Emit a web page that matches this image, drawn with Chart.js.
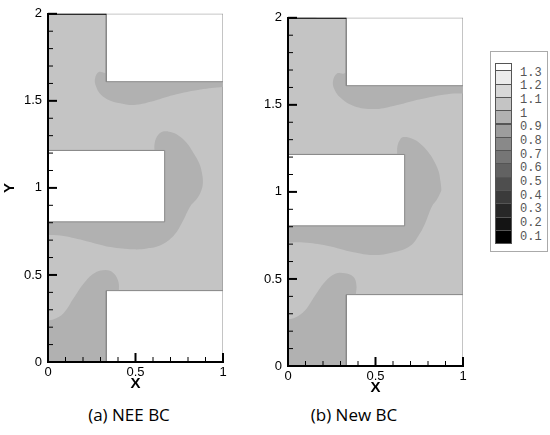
<!DOCTYPE html>
<html>
<head>
<meta charset="utf-8">
<script src="https://cdn.jsdelivr.net/npm/chart.js@4.4.1/dist/chart.umd.min.js"></script>
<style>
  body { margin: 0; background: #fff; width: 550px; height: 435px; position: relative; overflow: hidden; }
  canvas { position: absolute; }
  .caption { position: absolute; width: 200px; text-align: center; font: 17px "Open Sans", sans-serif; color: #000; top: 404px; line-height: 22px; }
  #legend { position: absolute; left: 490px; top: 51px; width: 56px; height: 199px; border: 1px solid #aaa; }
  .sw { position: absolute; left: 4px; width: 17px; box-sizing: border-box; border: 1px solid #555; }
  .lv { position: absolute; left: 29px; font: 12px "Liberation Mono", monospace; color: #555; line-height: 14px; }
</style>
</head>
<body>
<canvas id="nee" width="240" height="396" style="left:0;top:0"></canvas>
<canvas id="newbc" width="240" height="396" style="left:240px;top:4px"></canvas>
<div class="caption" style="left:29px">(a) NEE BC</div>
<div class="caption" style="left:254px">(b) New BC</div>
<div id="legend"></div>
<script>
// axis ticks and contour levels
const xTicks = [0, 0.5, 1];
const yTicks = [0, 0.5, 1, 1.5, 2];
const levelLabels = ['1.3', '1.2', '1.1', '1', '0.9', '0.8', '0.7', '0.6', '0.5', '0.4', '0.3', '0.2', '0.1'];

// channel geometry (x, y)
const channel = [[0,0],[1/3,0],[1/3,0.41],[1,0.41],[1,1.61],[1/3,1.61],[1/3,2],[0,2],[0,1.215],[2/3,1.215],[2/3,0.805],[0,0.805],[0,0]];
const inletEdge = [[0,2],[1/3,2]];
const blockTop = [[1/3,1.61],[1,1.61],[1,2],[1/3,2],[1/3,1.61]];
const blockMid = [[0,0.805],[2/3,0.805],[2/3,1.215],[0,1.215],[0,0.805]];
const blockBottom = [[1/3,0],[1,0],[1,0.41],[1/3,0.41],[1/3,0]];

// 0.9 - 1.0 band outlines, NEE BC
const neeUpper = [[1.05,1.75],[1.05,1.577],[1.0,1.58],[0.871,1.565],[0.719,1.534],[0.586,1.495],[0.49,1.476],[0.433,1.482],[0.357,1.50],[0.30,1.538],[0.277,1.576],[0.268,1.623],[0.29,1.665],[0.335,1.662],[0.5,1.75],[1.05,1.75]];
const neeMid = [[0.3,0.95],[0.55,1.05],[0.605,1.2],[0.61,1.26],[0.63,1.305],[0.662,1.325],[0.71,1.318],[0.757,1.293],[0.80,1.25],[0.833,1.198],[0.86,1.15],[0.876,1.104],[0.885,1.028],[0.871,0.972],[0.845,0.93],[0.814,0.896],[0.767,0.802],[0.719,0.726],[0.643,0.670],[0.565,0.652],[0.49,0.647],[0.357,0.660],[0.205,0.698],[0.071,0.726],[0,0.730],[-0.05,0.735],[-0.05,0.95],[0.3,0.95]];
const neeLower = [[0.38,-0.05],[-0.05,-0.05],[-0.05,0.235],[0,0.239],[0.033,0.245],[0.09,0.282],[0.147,0.367],[0.205,0.452],[0.262,0.509],[0.329,0.528],[0.376,0.509],[0.402,0.462],[0.405,0.41],[0.40,0.2],[0.38,-0.05]];

// 0.9 - 1.0 band outlines, New BC
const newUpper = [[1.05,1.75],[1.05,1.562],[1.0,1.565],[0.909,1.561],[0.756,1.532],[0.603,1.494],[0.489,1.476],[0.375,1.494],[0.299,1.542],[0.265,1.59],[0.257,1.636],[0.28,1.68],[0.32,1.68],[0.5,1.75],[1.05,1.75]];
const newMid = [[0.3,0.95],[0.55,1.05],[0.62,1.2],[0.625,1.26],[0.64,1.3],[0.661,1.315],[0.71,1.305],[0.756,1.277],[0.80,1.23],[0.832,1.182],[0.86,1.12],[0.870,1.069],[0.876,1.012],[0.870,0.993],[0.85,0.955],[0.823,0.918],[0.785,0.823],[0.756,0.766],[0.699,0.691],[0.603,0.653],[0.489,0.637],[0.375,0.653],[0.223,0.691],[0.089,0.709],[0,0.709],[-0.05,0.71],[-0.05,0.95],[0.3,0.95]];
const newLower = [[0.38,-0.05],[-0.05,-0.05],[-0.05,0.266],[0,0.268],[0.042,0.278],[0.099,0.322],[0.156,0.407],[0.213,0.486],[0.270,0.530],[0.327,0.533],[0.375,0.511],[0.391,0.464],[0.388,0.41],[0.385,0.2],[0.38,-0.05]];
const newCorner = [[-0.05,2.05],[-0.05,1.995],[0,1.993],[0.08,1.996],[0.16,2.0],[0.2,2.05],[-0.05,2.05]];

// 14 gray bands: white above 1.3 down to black below 0.1
const bandGray = k => { const g = Math.round(255 * (13 - k) / 13); return `rgb(${g},${g},${g})`; };
const lightFill = bandGray(3); // 1.0 - 1.1
const darkFill = bandGray(4);  // 0.9 - 1.0
const edgeGray = '#888';

const innerTicks = {
  id: 'innerTicks',
  afterDatasetsDraw(chart) {
    const { ctx, scales: { x, y }, chartArea: a } = chart;
    ctx.save();
    ctx.strokeStyle = '#000';
    for (let i = 0; i <= 10; i++) {
      const major = i % 5 === 0;
      const px = x.getPixelForValue(i / 10);
      ctx.lineWidth = major ? 2 : 1;
      ctx.beginPath();
      ctx.moveTo(px, a.bottom);
      ctx.lineTo(px, a.bottom - (major ? 9 : 5));
      ctx.stroke();
    }
    for (let i = 0; i <= 20; i++) {
      const major = i % 5 === 0;
      const py = y.getPixelForValue(i / 10);
      ctx.lineWidth = major ? 2 : 1;
      ctx.beginPath();
      ctx.moveTo(a.left, py);
      ctx.lineTo(a.left + (major ? 9 : 5), py);
      ctx.stroke();
    }
    ctx.restore();
  }
};

function poly(pts, fillColor, line, tension, order) {
  return {
    data: pts.map(([x, y]) => ({ x, y })),
    backgroundColor: fillColor,
    borderColor: line || 'rgba(0,0,0,0)',
    borderWidth: line ? 1 : 0,
    fill: 'shape',
    tension: tension,
    pointRadius: 0,
    order: order
  };
}

function makePanel(id, blobs, showYTitle) {
  const datasets = [
    poly(channel, lightFill, edgeGray, 0, 3),
    ...blobs.map(b => poly(b, darkFill, null, 0.4, 2)),
    poly(blockTop, '#fff', edgeGray, 0, 1),
    poly(blockMid, '#fff', edgeGray, 0, 1),
    poly(blockBottom, '#fff', edgeGray, 0, 1),
    { data: inletEdge.map(([x, y]) => ({ x, y })), borderColor: '#000', borderWidth: 2, fill: false, pointRadius: 0, order: 0 }
  ];
  const tickFont = { family: 'Liberation Sans', size: 13 };
  new Chart(document.getElementById(id), {
    type: 'line',
    data: { datasets },
    options: {
      responsive: false,
      animation: false,
      events: [],
      layout: { padding: { top: 8, right: 17, left: 0, bottom: 0 } },
      plugins: { legend: { display: false }, tooltip: { enabled: false } },
      scales: {
        x: {
          type: 'linear', min: 0, max: 1,
          grid: { display: false, drawTicks: false },
          border: { display: true, color: '#000', width: 2, z: 1 },
          afterBuildTicks: s => { s.ticks = xTicks.map(v => ({ value: v })); },
          ticks: { color: '#000', font: tickFont, padding: 3, maxRotation: 0, callback: v => String(v) },
          title: { display: true, text: 'X', color: '#000', font: { family: 'Liberation Sans', size: 15, weight: 'bold' }, padding: { top: 0, bottom: 3 } },
          afterFit: s => { s.height = 34; }
        },
        y: {
          type: 'linear', min: 0, max: 2,
          grid: { display: false, drawTicks: false },
          border: { display: true, color: '#000', width: 2, z: 1 },
          afterBuildTicks: s => { s.ticks = yTicks.map(v => ({ value: v })); },
          ticks: { color: '#000', font: tickFont, padding: 6, callback: v => String(v) },
          title: { display: showYTitle, text: 'Y', color: '#000', font: { family: 'Liberation Sans', size: 15, weight: 'bold' }, padding: { top: 1, bottom: 0 } },
          afterFit: s => { s.width = 48; }
        }
      }
    },
    plugins: [innerTicks]
  });
}

makePanel('nee', [neeUpper, neeMid, neeLower], true);
makePanel('newbc', [newUpper, newMid, newLower, newCorner], false);

// legend
const legend = document.getElementById('legend');
const swTop = 11.3, firstH = 7, rowH = 13.3;
for (let k = 0; k <= 13; k++) {
  const d = document.createElement('div');
  d.className = 'sw';
  const top = k === 0 ? swTop : swTop + firstH + (k - 1) * rowH;
  const h = k === 0 ? firstH : rowH;
  d.style.top = top + 'px';
  d.style.height = (h + 1) + 'px';
  d.style.background = bandGray(k);
  legend.appendChild(d);
}
levelLabels.forEach((t, k) => {
  const d = document.createElement('div');
  d.className = 'lv';
  d.textContent = t;
  d.style.top = (13.7 + 13.67 * k) + 'px';
  legend.appendChild(d);
});
</script>
</body>
</html>
